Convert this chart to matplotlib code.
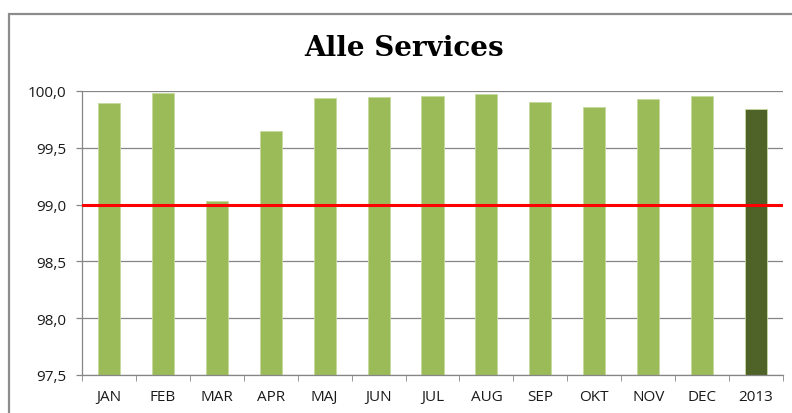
import matplotlib
matplotlib.use('Agg')
import matplotlib.pyplot as plt
from matplotlib.patches import Rectangle
from matplotlib.ticker import FuncFormatter
import numpy as np

categories = ['JAN', 'FEB', 'MAR', 'APR', 'MAJ', 'JUN', 'JUL', 'AUG', 'SEP', 'OKT', 'NOV', 'DEC', '2013']
values = [99.89, 99.98, 99.03, 99.65, 99.94, 99.95, 99.96, 99.97, 99.90, 99.86, 99.93, 99.96, 99.84]
target = 99.0
y_ticks = [97.5, 98.0, 98.5, 99.0, 99.5, 100.0]

plt.rcParams['font.family'] = ['Open Sans', 'DejaVu Sans']

fig = plt.figure(figsize=(7.92, 4.14), dpi=100)
ax = fig.add_axes([82 / 792, 1 - 376 / 414, (783 - 82) / 792, (376 - 92) / 414])

# outer chart border (cut off right and bottom like the screenshot)
fig.patches.append(Rectangle((9 / 792, -0.1), 1.2, 1 - 15 / 414 + 0.1, transform=fig.transFigure,
                             fill=False, edgecolor='#8c8c8c', linewidth=1.6))

x = np.arange(len(categories))
colors = ['#9bbb59'] * (len(categories) - 1) + ['#4f6228']
ax.bar(x, [v - 97.5 for v in values], bottom=97.5, width=0.41, color=colors,
       edgecolor='#c6d9a0', linewidth=0.6, zorder=2)
ax.axhline(target, color='#ff0000', linewidth=2.2, zorder=3)

ax.set_xlim(-0.5, len(categories) - 0.5)
ax.set_ylim(97.5, 100.0)
ax.set_yticks(y_ticks)
ax.yaxis.set_major_formatter(FuncFormatter(lambda v, p: f'{v:.1f}'.replace('.', ',')))
ax.set_xticks(x)
ax.set_xticklabels(categories)
ax.set_xticks(np.arange(len(categories) + 1) - 0.5, minor=True)
ax.tick_params(axis='x', which='major', length=0, pad=10, labelsize=11, colors='#1a1a1a')
ax.tick_params(axis='x', which='minor', length=4.5, color='#868686', direction='out')
ax.tick_params(axis='y', length=4.5, width=0.9, color='#868686', labelcolor='#1a1a1a',
               labelsize=11, pad=7)

ax.grid(axis='y', color='#868686', linewidth=0.9, zorder=0)
ax.set_axisbelow(True)
for s in ['top', 'right']:
    ax.spines[s].set_visible(False)
for s in ['left', 'bottom']:
    ax.spines[s].set_color('#868686')
    ax.spines[s].set_linewidth(0.9)

fig.text(404 / 792, 1 - 48 / 414, 'Alle Services', ha='center', va='center',
         fontsize=20, fontweight='bold', family='DejaVu Serif')

fig.savefig('out.png', dpi=100)
